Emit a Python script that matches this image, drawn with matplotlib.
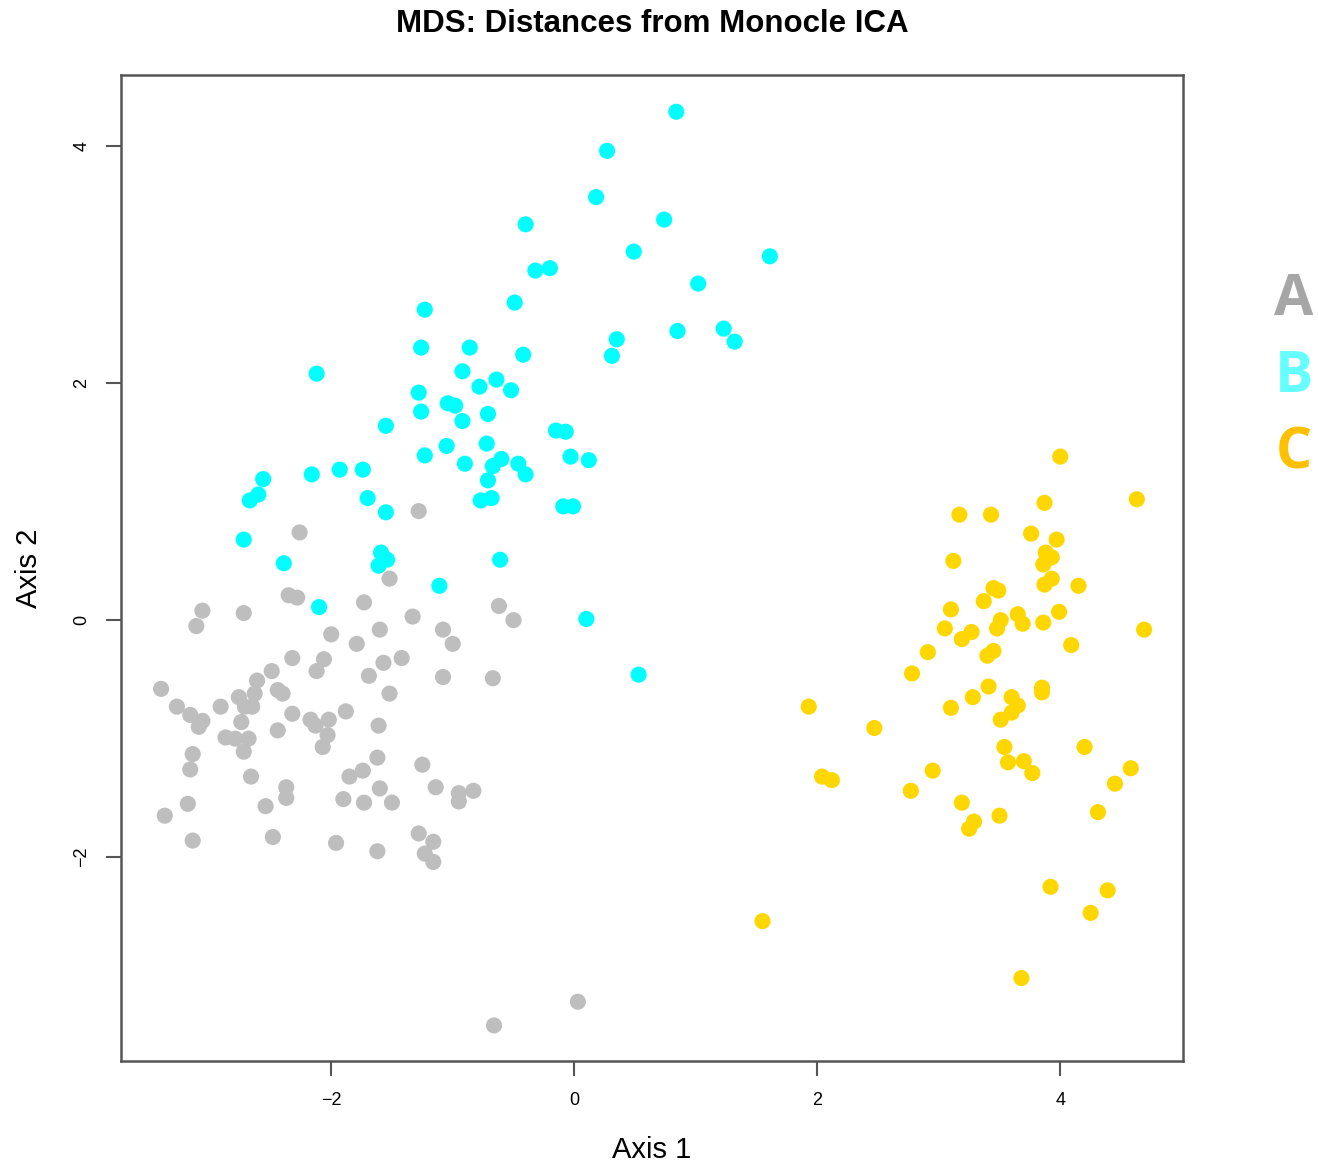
import matplotlib
matplotlib.use("Agg")
import matplotlib.pyplot as plt

# MDS coordinates per group
a_x = [-3.40, -3.27, -3.16, -3.06, -3.09, -2.91, -2.76, -2.63, -2.71, -2.65,
       -2.74, -2.87, -2.79, -2.68, -2.72, -2.44, -2.32, -2.17, -2.13, -2.02,
       -2.03, -2.07, -1.88, -3.14, -3.16, -2.66, -2.37, -2.37, -2.54, -3.18,
       -3.37, -3.14, -2.48, -1.96, -1.90, -2.26, -2.35, -2.28, -3.06, -3.11,
       -2.72, -2.00, -2.32, -2.06, -2.12, -2.49, -2.61, -2.44, -2.40, -1.28,
       -1.52, -1.73, -0.62, -0.50, -1.33, -1.60, -1.08, -1.00, -1.79, -1.57,
       -1.42, -1.69, -1.08, -0.67, -1.52, -1.61, -1.62, -1.25, -1.74, -1.85,
       -1.14, -0.95, -0.83, -0.95, -1.60, -1.73, -1.50, -1.28, -1.16, -1.23,
       -1.16, -1.62, -0.66, 0.03]
a_y = [-0.58, -0.73, -0.80, -0.85, -0.90, -0.73, -0.65, -0.62, -0.73, -0.73,
       -0.86, -0.99, -1.00, -1.00, -1.11, -0.93, -0.79, -0.84, -0.89, -0.84,
       -0.97, -1.07, -0.77, -1.13, -1.26, -1.32, -1.41, -1.50, -1.57, -1.55,
       -1.65, -1.86, -1.83, -1.88, -1.51, 0.74, 0.21, 0.19, 0.08, -0.05,
       0.06, -0.12, -0.32, -0.33, -0.43, -0.43, -0.51, -0.59, -0.62, 0.92,
       0.35, 0.15, 0.12, 0.00, 0.03, -0.08, -0.08, -0.20, -0.20, -0.36,
       -0.32, -0.47, -0.48, -0.49, -0.62, -0.89, -1.16, -1.22, -1.27, -1.32,
       -1.41, -1.46, -1.44, -1.53, -1.42, -1.54, -1.54, -1.80, -1.87, -1.97,
       -2.04, -1.95, -3.42, -3.22]

b_x = [0.84, 0.27, 0.18, -0.40, 0.74, -0.32, -0.20, 0.49, 1.61, 1.02,
       -0.49, -1.23, 1.23, 0.85, 0.35, 1.32, 0.31, -1.26, -0.86, -0.42,
       -2.12, -0.92, -0.78, -0.64, -0.52, -1.28, -1.04, -0.98, -1.26, -0.71,
       -0.92, -1.55, -1.05, -0.72, -0.15, -0.07, -1.23, -0.90, -0.60, -0.67,
       -0.46, -0.40, -0.03, 0.12, -2.16, -1.93, -1.74, -2.56, -0.71, -2.67,
       -2.60, -1.70, -0.77, -0.68, -1.55, -0.09, -0.01, -2.72, -1.59, -1.54,
       -1.61, -2.39, -0.61, -1.11, -2.10, 0.10, 0.53]
b_y = [4.29, 3.96, 3.57, 3.34, 3.38, 2.95, 2.97, 3.11, 3.07, 2.84,
       2.68, 2.62, 2.46, 2.44, 2.37, 2.35, 2.23, 2.30, 2.30, 2.24,
       2.08, 2.10, 1.97, 2.03, 1.94, 1.92, 1.83, 1.81, 1.76, 1.74,
       1.68, 1.64, 1.47, 1.49, 1.60, 1.59, 1.39, 1.32, 1.36, 1.30,
       1.32, 1.23, 1.38, 1.35, 1.23, 1.27, 1.27, 1.19, 1.18, 1.01,
       1.06, 1.03, 1.01, 1.03, 0.91, 0.96, 0.96, 0.68, 0.57, 0.51,
       0.46, 0.48, 0.51, 0.29, 0.11, 0.01, -0.46]

c_x = [4.00, 4.63, 3.17, 3.43, 3.87, 3.76, 3.97, 3.12, 3.88, 3.93,
       3.86, 3.93, 3.87, 4.15, 3.45, 3.49, 3.37, 3.10, 3.65, 3.69,
       3.86, 3.99, 3.51, 3.48, 3.05, 3.27, 3.19, 4.69, 4.09, 2.91,
       3.45, 3.40, 2.78, 3.85, 3.85, 3.41, 3.28, 3.60, 3.65, 3.60,
       3.51, 3.10, 1.93, 2.47, 4.20, 3.54, 3.57, 3.70, 3.77, 2.95,
       2.04, 2.12, 2.77, 4.58, 4.45, 3.19, 4.31, 3.29, 3.25, 3.50,
       3.92, 4.39, 4.25, 1.55, 3.68]
c_y = [1.38, 1.02, 0.89, 0.89, 0.99, 0.73, 0.68, 0.50, 0.57, 0.53,
       0.47, 0.35, 0.30, 0.29, 0.27, 0.25, 0.16, 0.09, 0.05, -0.03,
       -0.02, 0.07, 0.00, -0.07, -0.07, -0.10, -0.16, -0.08, -0.21, -0.27,
       -0.26, -0.30, -0.45, -0.57, -0.61, -0.56, -0.65, -0.65, -0.72, -0.78,
       -0.84, -0.74, -0.73, -0.91, -1.07, -1.07, -1.20, -1.19, -1.29, -1.27,
       -1.32, -1.35, -1.44, -1.25, -1.38, -1.54, -1.62, -1.70, -1.76, -1.65,
       -2.25, -2.28, -2.47, -2.54, -3.02]

groups = ["A", "B", "C"]
point_colors = ["#BEBEBE", "#00FFFF", "#FFD700"]
label_colors = ["#A6A6A6", "#66FFFF", "#FFC000"]

plt.rcParams["font.family"] = ["Liberation Sans", "DejaVu Sans"]

fig = plt.figure(figsize=(13.18, 11.63), dpi=100)
ax = fig.add_axes([121 / 1318, 1 - 1061 / 1163, (1183 - 121) / 1318, (1061 - 75) / 1163])

for xs, ys, col in zip([a_x, b_x, c_x], [a_y, b_y, c_y], point_colors):
    ax.scatter(xs, ys, s=135, c=col, edgecolors="none", zorder=2)

ax.set_xlim(-3.73, 5.01)
ax.set_ylim(-3.72, 4.60)
ax.set_xticks([-2, 0, 2, 4])
ax.set_yticks([-2, 0, 2, 4])
ax.tick_params(direction="out", length=11, width=1.5, color="#555555",
               labelsize=13, pad=11)
for lab in ax.get_yticklabels():
    lab.set_rotation(90)
    lab.set_va("center")
for sp in ax.spines.values():
    sp.set_color("#555555")
    sp.set_linewidth(1.8)

ax.set_xlabel("Axis 1", fontsize=21, labelpad=20)
ax.set_ylabel("Axis 2", fontsize=21, labelpad=22)
fig.text(652 / 1318, 1 - 24 / 1163, "MDS: Distances from Monocle ICA",
         ha="center", va="center", fontsize=22.5, fontweight="bold")

# group key at the right edge
for i, (g, col) in enumerate(zip(groups, label_colors)):
    fig.text(1294 / 1318, 1 - (300 + 76.5 * i) / 1163, g, ha="center", va="center",
             fontsize=41, fontweight="bold", color=col,
             family=["Open Sans", "DejaVu Sans"])

fig.savefig("out.png", dpi=100)
